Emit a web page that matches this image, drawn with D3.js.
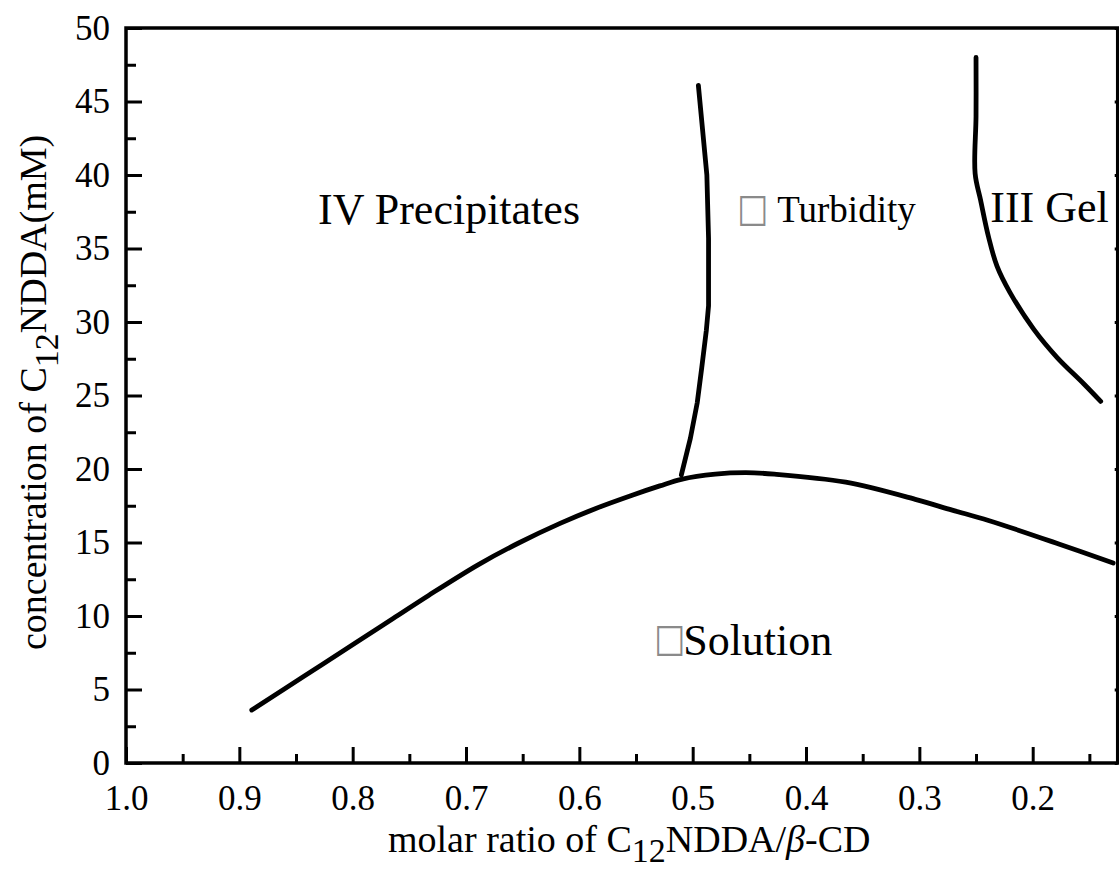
<!DOCTYPE html>
<html>
<head>
<meta charset="utf-8">
<script src="https://cdn.jsdelivr.net/npm/d3@7"></script>
<style>
  html, body { margin: 0; padding: 0; background: #fff; }
  svg { display: block; }
</style>
</head>
<body>
<svg id="chart" width="1119" height="869"></svg>
<script>
// ---- data ----
const solutionRatio = [0.889, 0.843, 0.796, 0.764, 0.733, 0.689, 0.654, 0.617, 0.586, 0.554, 0.529, 0.510, 0.480, 0.453, 0.428, 0.365, 0.302, 0.271, 0.239, 0.177, 0.129];
const solutionConc  = [3.6,   5.9,   8.25,  9.85,  11.4,  13.5,  14.95, 16.3,  17.3,  18.2,  18.85, 19.3,  19.65, 19.75, 19.65, 19.1,  17.9,  17.2,  16.5,  14.9,  13.6];

const turbidityRatio = [0.510, 0.502, 0.496, 0.492, 0.488, 0.486, 0.486, 0.4875, 0.495];
const turbidityConc  = [19.6,  22.1,  24.5,  26.9,  29.4,  31.1,  35.7,  40.0,   46.1];

const gelRatio = [0.250, 0.250, 0.2508, 0.246, 0.239, 0.2315, 0.220, 0.199, 0.1786, 0.155, 0.140];
const gelConc  = [48.0,  44.0,  40.1,   38.3,  35.8,  33.8,   32.0,  29.5,  27.6,   25.8,  24.6];

const xMajorTicks = [1.0, 0.9, 0.8, 0.7, 0.6, 0.5, 0.4, 0.3, 0.2];
const xMinorTicks = [0.95, 0.85, 0.75, 0.65, 0.55, 0.45, 0.35, 0.25, 0.15];
const yMajorTicks = [0, 5, 10, 15, 20, 25, 30, 35, 40, 45, 50];
const yMinorTicks = [2.5, 7.5, 12.5, 17.5, 22.5, 27.5, 32.5, 37.5, 42.5, 47.5];

// region labels: text and anchor in data coordinates (ratio, concentration)
const labelTexts  = ["IV Precipitates", "\u25A1", "Turbidity", "III Gel", "\u25A1", "Solution"];
const labelRatio  = [0.8305, 0.4609, 0.4254, 0.2374, 0.5342, 0.5084];
const labelConc   = [36.7,   36.84,  36.8,   36.8,   7.62,   7.35];
const labelIsBox  = [false, true, false, false, true, false];

// ---- drawing ----
const SERIF = "'Liberation Serif', 'Times New Roman', Times, serif";
const svg = d3.select("#chart");
const x = d3.scaleLinear().domain([1.0, 0.125]).range([126, 1117.7]);
const y = d3.scaleLinear().domain([0, 50]).range([763, 28]);

const fmt = d3.format(".1f");

const gxMaj = svg.append("g").attr("transform", `translate(0,${y(0)})`)
  .call(d3.axisBottom(x).tickValues(xMajorTicks).tickSize(-16).tickPadding(22).tickFormat(fmt));
const gxMin = svg.append("g").attr("transform", `translate(0,${y(0)})`)
  .call(d3.axisBottom(x).tickValues(xMinorTicks).tickSize(-9).tickFormat(""));
const gyMaj = svg.append("g").attr("transform", `translate(${x(1.0)},0)`)
  .call(d3.axisLeft(y).tickValues(yMajorTicks).tickSize(-16).tickPadding(16).tickFormat(d3.format("d")));
const gyMin = svg.append("g").attr("transform", `translate(${x(1.0)},0)`)
  .call(d3.axisLeft(y).tickValues(yMinorTicks).tickSize(-10).tickFormat(""));
const gyR = svg.append("g").attr("transform", `translate(${x(0.125)},0)`)
  .call(d3.axisRight(y).tickValues(yMajorTicks).tickSize(-3).tickFormat(""));

[gxMaj, gxMin, gyMaj, gyMin, gyR].forEach(g => {
  g.select(".domain").remove();
  g.selectAll(".tick line").attr("stroke", "#000").attr("stroke-width", 3);
  g.selectAll(".tick text").attr("font-size", 35).attr("fill", "#000").attr("font-family", SERIF);
});

// frame
svg.append("rect")
  .attr("x", x(1.0)).attr("y", y(50))
  .attr("width", x(0.125) - x(1.0)).attr("height", y(0) - y(50))
  .attr("fill", "none").attr("stroke", "#000").attr("stroke-width", 3.5);

// boundary curves
const zip = (a, b) => a.map((v, i) => [v, b[i]]);
const smooth = d3.line().x(d => x(d[0])).y(d => y(d[1])).curve(d3.curveCatmullRom.alpha(0.5));
const straight = d3.line().x(d => x(d[0])).y(d => y(d[1])).curve(d3.curveLinear);

const curves = [
  { pts: zip(solutionRatio, solutionConc), gen: smooth },
  { pts: zip(turbidityRatio, turbidityConc), gen: straight },
  { pts: zip(gelRatio, gelConc), gen: smooth }
];
svg.append("g").selectAll("path").data(curves).join("path")
  .attr("d", d => d.gen(d.pts))
  .attr("fill", "none").attr("stroke", "#000").attr("stroke-width", 4.8)
  .attr("stroke-linecap", "round").attr("stroke-linejoin", "round");

// region labels
svg.append("g").selectAll("text").data(labelTexts).join("text")
  .attr("transform", (d, i) => labelIsBox[i]
      ? `translate(${x(labelRatio[i])},${y(labelConc[i])}) scale(0.85,1)`
      : `translate(${x(labelRatio[i])},${y(labelConc[i])})`)
  .attr("font-size", (d, i) => labelIsBox[i] ? 39 : (d === "Turbidity" ? 37 : 44))
  .attr("font-family", (d, i) => labelIsBox[i] ? "'DejaVu Sans', sans-serif" : SERIF)
  .attr("fill", (d, i) => labelIsBox[i] ? "#8a8a8a" : "#000")
  .text(d => d);

// x axis title
const xt = svg.append("text").attr("x", 388).attr("y", 852).attr("font-size", 38).attr("font-family", SERIF);
xt.append("tspan").text("molar ratio of C");
xt.append("tspan").attr("dy", 10).attr("font-size", 34).text("12");
xt.append("tspan").attr("dy", -10).text("NDDA/");
xt.append("tspan").attr("font-style", "italic").text("\u03B2");
xt.append("tspan").text("-CD");

// y axis title
const yt = svg.append("text").attr("transform", "translate(46,650) rotate(-90)").attr("font-size", 38).attr("font-family", SERIF);
yt.append("tspan").text("concentration of C");
yt.append("tspan").attr("dy", 12).attr("font-size", 34).text("12");
yt.append("tspan").attr("dy", -12).text("NDDA(mM)");
</script>
</body>
</html>
